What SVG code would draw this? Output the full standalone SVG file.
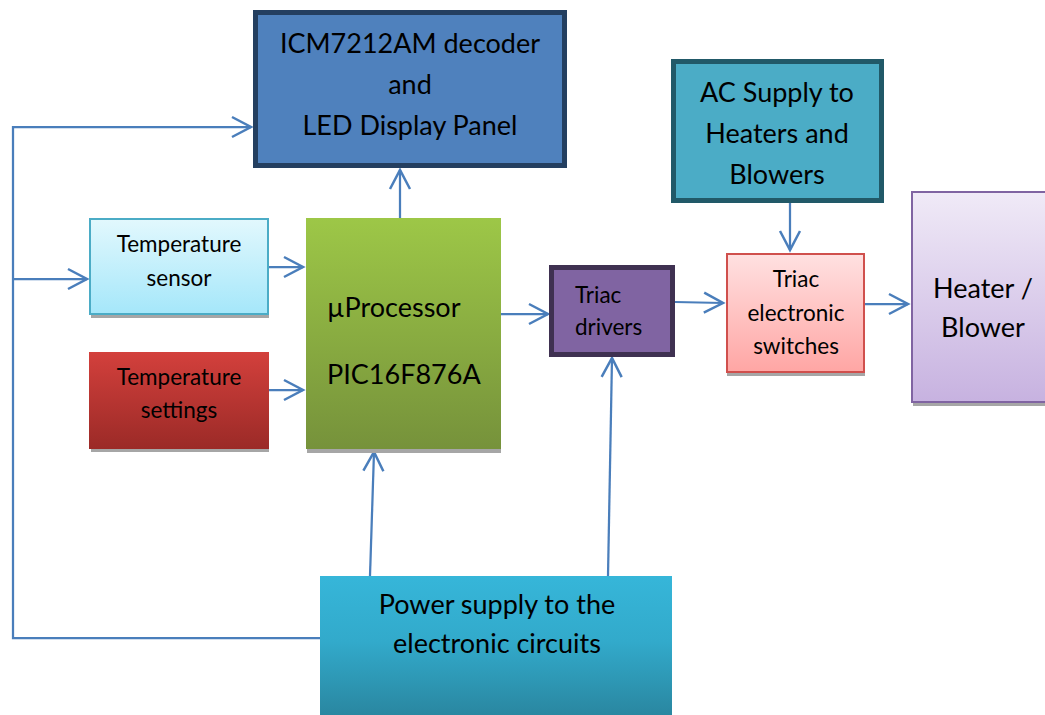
<svg xmlns="http://www.w3.org/2000/svg" width="1045" height="715" viewBox="0 0 1045 715">
<style>
text{font-family:Lato,"Liberation Sans",sans-serif;fill:#000}
.big{font-size:27px}
.sm{font-size:22.5px}
.c{text-anchor:middle}
.conn{fill:none;stroke:#4A7EBB;stroke-width:2.25}
.shadow{fill:#A6A6A6}
</style>
<defs>
<marker id="arr" viewBox="-21 -12 24 24" refX="0" refY="0" markerWidth="24" markerHeight="24" markerUnits="userSpaceOnUse" orient="auto">
<path d="M-19,-10 L0,0 L-19,10" fill="none" stroke="#4A7EBB" stroke-width="2.5"/>
</marker>
<linearGradient id="gSensor" x1="0" y1="0" x2="0" y2="1"><stop offset="0" stop-color="#E2F8FD"/><stop offset="1" stop-color="#A5E7FA"/></linearGradient>
<linearGradient id="gSet" x1="0" y1="0" x2="0" y2="1"><stop offset="0" stop-color="#D3403C"/><stop offset="1" stop-color="#9B2A27"/></linearGradient>
<linearGradient id="gMp" x1="0" y1="0" x2="0" y2="1"><stop offset="0" stop-color="#9DC747"/><stop offset="1" stop-color="#76923B"/></linearGradient>
<linearGradient id="gSw" x1="0" y1="0" x2="0" y2="1"><stop offset="0" stop-color="#FFE1E1"/><stop offset="1" stop-color="#FFA6A4"/></linearGradient>
<linearGradient id="gHeat" x1="0" y1="0" x2="0" y2="1"><stop offset="0" stop-color="#F0EAF7"/><stop offset="1" stop-color="#C7B2E0"/></linearGradient>
<linearGradient id="gPow" x1="0" y1="0" x2="0" y2="1"><stop offset="0" stop-color="#36B6D9"/><stop offset="0.45" stop-color="#32AACB"/><stop offset="1" stop-color="#29849D"/></linearGradient>
</defs>

<g id="connectors">
<path class="conn" d="M320,638 H13 V127 H251" marker-end="url(#arr)"/>
<path class="conn" d="M13,279 H87" marker-end="url(#arr)"/>
<path class="conn" d="M400,218 V170" marker-end="url(#arr)"/>
<path class="conn" d="M269,267 H303" marker-end="url(#arr)"/>
<path class="conn" d="M269,390 H303" marker-end="url(#arr)"/>
<path class="conn" d="M501,314 H548" marker-end="url(#arr)"/>
<path class="conn" d="M675,302 L723,303" marker-end="url(#arr)"/>
<path class="conn" d="M790,203 V250" marker-end="url(#arr)"/>
<path class="conn" d="M865,304 H908" marker-end="url(#arr)"/>
<path class="conn" d="M370,576 L374,452" marker-end="url(#arr)"/>
<path class="conn" d="M608,576 L612,358" marker-end="url(#arr)"/>
</g>

<g id="icm">
<rect x="255.5" y="12.5" width="309" height="153" fill="#4F81BD" stroke="#243F60" stroke-width="5"/>
<text class="big c" x="410" y="53">ICM7212AM decoder</text>
<text class="big c" x="410" y="94">and</text>
<text class="big c" x="410" y="135">LED Display Panel</text>
</g>

<g id="ac-supply">
<rect x="673.5" y="61.5" width="208" height="139" fill="#4BACC6" stroke="#215968" stroke-width="5"/>
<text class="big c" x="777" y="102">AC Supply to</text>
<text class="big c" x="777" y="143">Heaters and</text>
<text class="big c" x="777" y="184">Blowers</text>
</g>

<g id="temp-sensor">
<rect class="shadow" x="91" y="312" width="178" height="6"/>
<rect x="90" y="219" width="178" height="95" fill="url(#gSensor)" stroke="#4BACC6" stroke-width="2"/>
<text class="sm c" x="179" y="252">Temperature</text>
<text class="sm c" x="179" y="286">sensor</text>
</g>

<g id="temp-settings">
<rect class="shadow" x="91" y="447" width="178" height="5"/>
<rect x="89" y="352" width="180" height="97" fill="url(#gSet)"/>
<text class="sm c" x="179" y="385">Temperature</text>
<text class="sm c" x="179" y="418">settings</text>
</g>

<g id="microprocessor">
<rect class="shadow" x="307" y="447" width="194" height="6"/>
<rect x="306" y="218" width="195" height="231" fill="url(#gMp)"/>
<text class="big" x="327" y="317">µProcessor</text>
<text class="big" x="327" y="384">PIC16F876A</text>
</g>

<g id="triac-drivers">
<rect x="551.5" y="267.5" width="121" height="87" fill="#8064A2" stroke="#3F3151" stroke-width="5"/>
<text class="sm" x="575" y="303">Triac</text>
<text class="sm" x="575" y="335">drivers</text>
</g>

<g id="triac-switches">
<rect class="shadow" x="727" y="370" width="138" height="6"/>
<rect x="727" y="254" width="137" height="118" fill="url(#gSw)" stroke="#D0504D" stroke-width="2"/>
<text class="sm c" x="796" y="287">Triac</text>
<text class="sm c" x="796" y="321">electronic</text>
<text class="sm c" x="796" y="354">switches</text>
</g>

<g id="heater">
<rect class="shadow" x="913" y="400" width="140" height="6"/>
<rect x="912" y="192" width="140" height="210" fill="url(#gHeat)" stroke="#8064A2" stroke-width="2"/>
<text class="big c" x="983" y="298">Heater /</text>
<text class="big c" x="983" y="337">Blower</text>
</g>

<g id="power-supply">
<rect x="320" y="576" width="352" height="145" fill="url(#gPow)"/>
<text class="big c" x="497" y="614">Power supply to the</text>
<text class="big c" x="497" y="653">electronic circuits</text>
</g>
</svg>
